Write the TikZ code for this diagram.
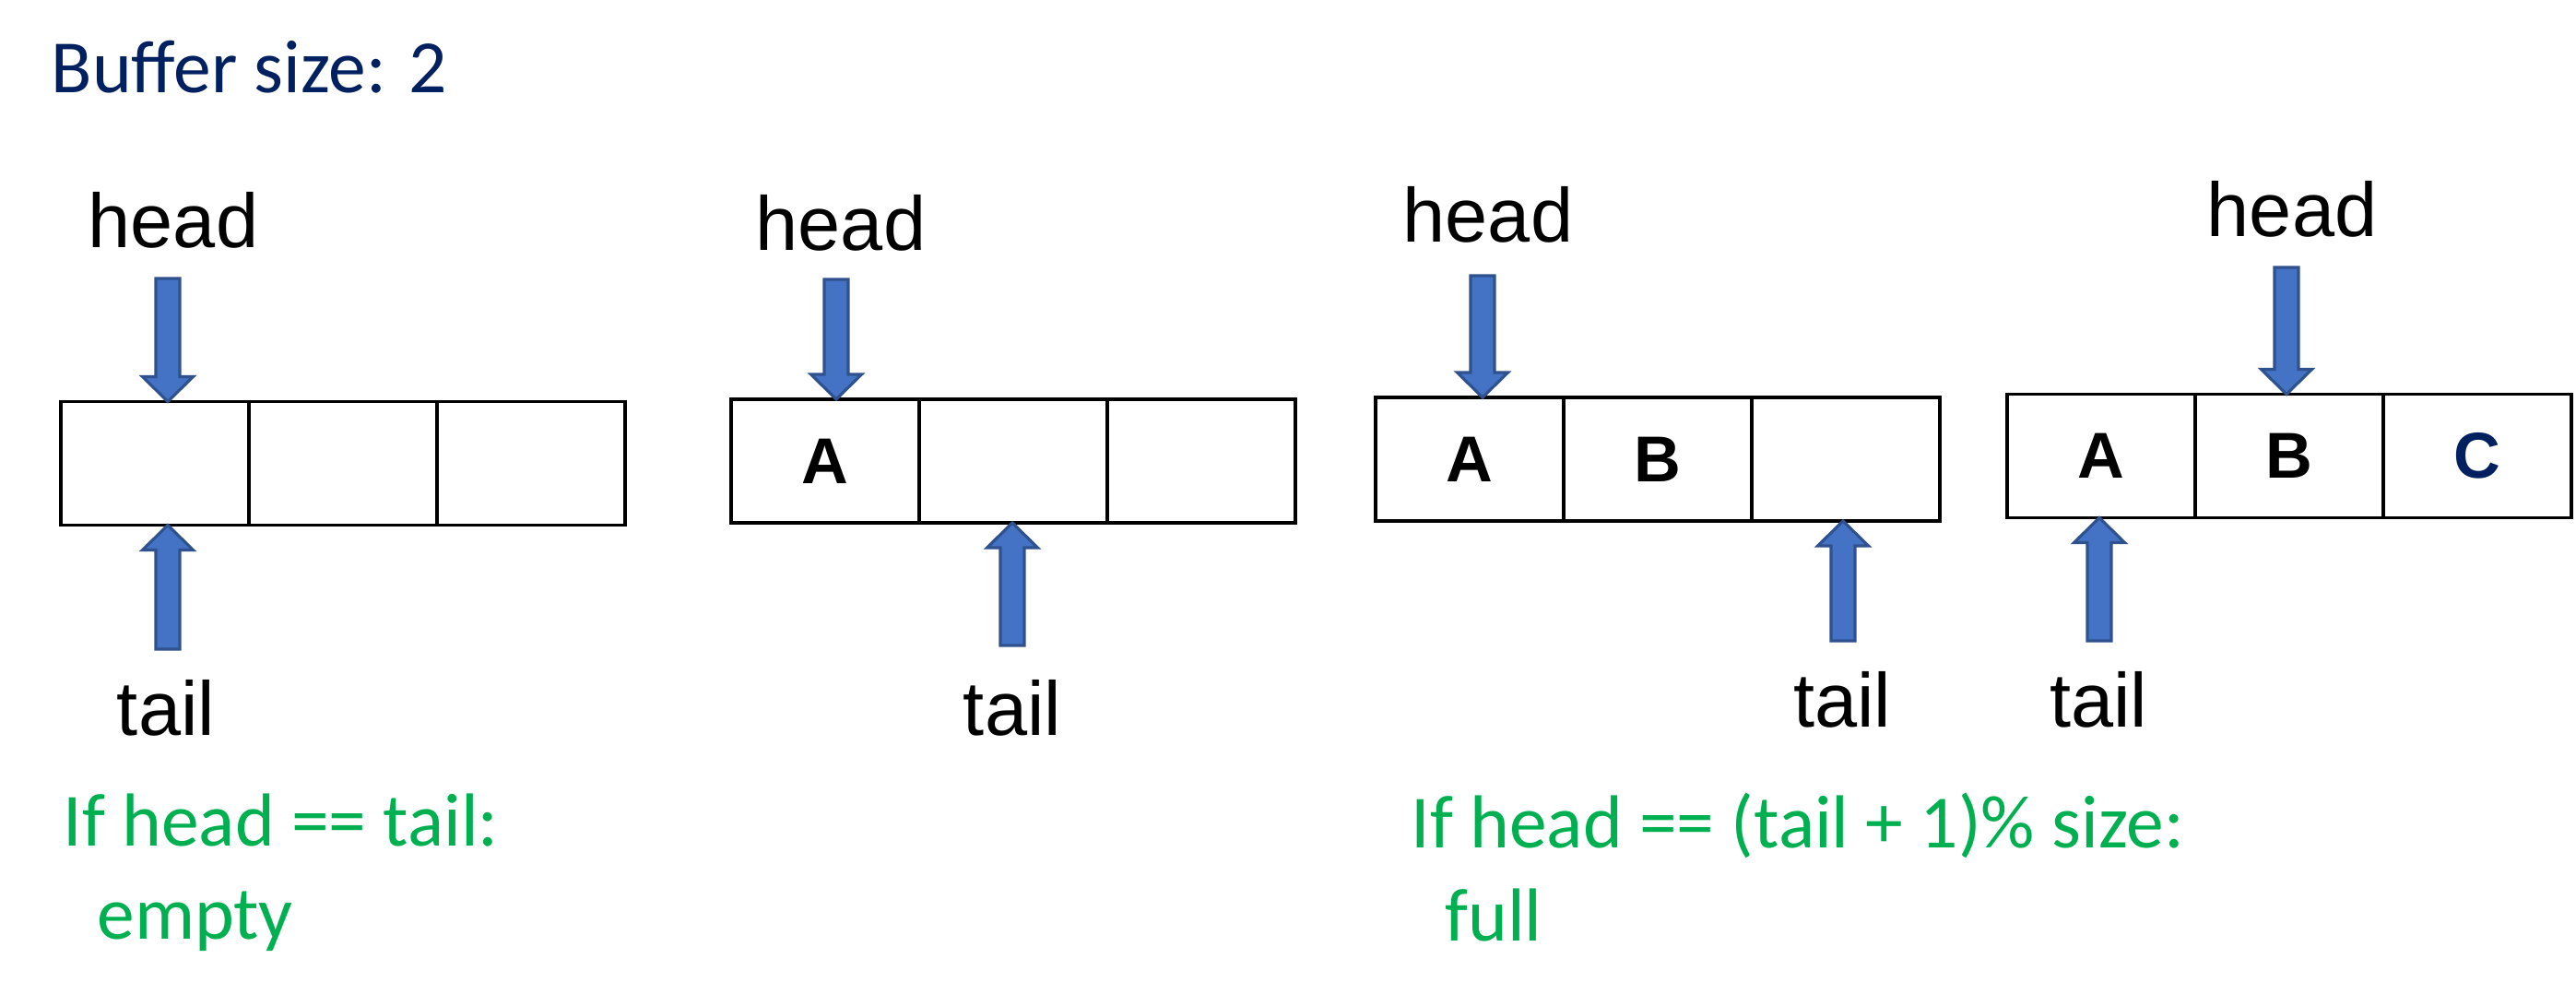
\documentclass[tikz,border=0pt]{standalone}
\usepackage{fontspec}
\setmainfont{Liberation Sans}
\newfontfamily\calibri{Carlito}
\usepackage{tikz}
\usetikzlibrary{calc}
\usetikzlibrary{positioning}
\usepackage{xcolor}
\definecolor{navy}{HTML}{002060}
\definecolor{okgreen}{HTML}{00B050}
\definecolor{ptrfill}{HTML}{4472C4}
\definecolor{ptredge}{HTML}{2F528F}

% block arrow from a free end (#1) to its tip (#2), vertical
\newcommand{\fatarrow}[2]{%
	\draw[ptr] let \p1=(#1), \p2=(#2), \p3=($(#2)!0.27cm!(#1)$) in
		(\x1-0.13cm,\y1) -- (\x1-0.13cm,\y3) -- (\x1-0.275cm,\y3) -- (\x1,\y2)
		-- (\x1+0.275cm,\y3) -- (\x1+0.13cm,\y3) -- (\x1+0.13cm,\y1) -- cycle;}

\begin{document}
\begin{tikzpicture}[every node/.style={inner sep=0pt},
		cell/.style={draw, line width=0.9pt, outer sep=0pt, minimum width=2.04cm, minimum height=1.34cm,
			font=\fontsize{20}{24}\selectfont\bfseries},
		lbl/.style={anchor=base, font=\fontsize{23.6}{28}\selectfont},
		cond/.style={anchor=base west, align=left, text=okgreen, font=\calibri\fontsize{23.2}{28.6}\selectfont},
		ptr/.style={fill=ptrfill, draw=ptredge, line width=0.9pt, line join=miter}]
	\useasboundingbox (0,0) rectangle (27.94,10.90);

	\node[anchor=base west, text=navy, font=\calibri\fontsize{23.2}{28}\selectfont] (title) at (0.55,9.90) {Buffer size: 2};

	% Panel 1: empty buffer
	\begin{scope}[shift={(0.66,5.875)}]
		\node[cell, anchor=west] (p1c1) at (0,0) {};
		\node[cell, right=0pt of p1c1] (p1c2) {};
		\node[cell, right=0pt of p1c2] (p1c3) {};
		\node[lbl] (h1) at (1.22,2.345) {head};
		\node[lbl] (t1) at (1.14,-2.945) {tail};
		\coordinate (hs1) at (1.16,2.005);
		\coordinate (ts1) at (1.16,-2.015);
		\fatarrow{hs1}{hs1 |- p1c1.north}
		\fatarrow{ts1}{ts1 |- p1c1.south}
	\end{scope}

	% Panel 2: one item
	\begin{scope}[shift={(7.93,5.90)}]
		\node[cell, anchor=west] (p2c1) at (0,0) {A};
		\node[cell, right=0pt of p2c1] (p2c2) {};
		\node[cell, right=0pt of p2c2] (p2c3) {};
		\node[lbl] (h2) at (1.19,2.29) {head};
		\node[lbl] (t2) at (3.05,-2.97) {tail};
		\coordinate (hs2) at (1.14,1.97);
		\coordinate (ts2) at (3.05,-2.00);
		\fatarrow{hs2}{hs2 |- p2c1.north}
		\fatarrow{ts2}{ts2 |- p2c2.south}
	\end{scope}

	% Panel 3: two items
	\begin{scope}[shift={(14.92,5.92)}]
		\node[cell, anchor=west] (p3c1) at (0,0) {A};
		\node[cell, right=0pt of p3c1] (p3c2) {B};
		\node[cell, right=0pt of p3c2] (p3c3) {};
		\node[lbl] (h3) at (1.22,2.36) {head};
		\node[lbl] (t3) at (5.06,-2.90) {tail};
		\coordinate (hs3) at (1.16,1.99);
		\coordinate (ts3) at (5.07,-1.97);
		\fatarrow{hs3}{hs3 |- p3c1.north}
		\fatarrow{ts3}{ts3 |- p3c3.south}
	\end{scope}

	% Panel 4: full
	\begin{scope}[shift={(21.77,5.955)}]
		\node[cell, anchor=west] (p4c1) at (0,0) {A};
		\node[cell, right=0pt of p4c1] (p4c2) {B};
		\node[cell, right=0pt of p4c2, text=navy] (p4c3) {C};
		\node[lbl] (h4) at (3.09,2.385) {head};
		\node[lbl] (t4) at (0.99,-2.935) {tail};
		\coordinate (hs4) at (3.03,2.045);
		\coordinate (ts4) at (1.00,-2.005);
		\fatarrow{hs4}{hs4 |- p4c2.north}
		\fatarrow{ts4}{ts4 |- p4c1.south}
	\end{scope}

	% conditions (base = last line)
	\node[cond] (isempty) at (0.68,0.72) {If head == tail:\\\hspace*{0.45em}empty};
	\node[cond] (isfull) at (15.30,0.70) {If head == (tail + 1)\% size:\\\hspace*{0.45em}full};
\end{tikzpicture}
\end{document}
